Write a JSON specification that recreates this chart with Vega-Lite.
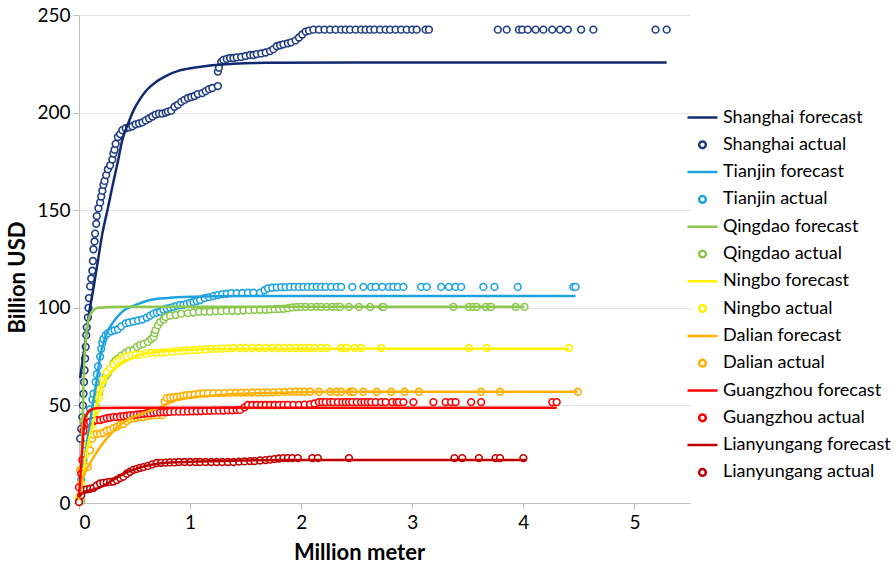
{
  "$schema": "https://vega.github.io/schema/vega-lite/v6.json",
  "width": 611,
  "height": 488,
  "autosize": {"type": "none"},
  "padding": {"left": 79, "top": 15, "right": 206, "bottom": 63},
  "background": "white",
  "config": {
    "view": {"stroke": null},
    "font": "Lato",
    "axis": {"labelFont": "Lato", "titleFont": "Lato", "labelColor": "#000000", "titleColor": "#000000"}
  },
  "datasets": {
    "forecast": [
      {"s":"Shanghai  forecast","x":0.01,"y":64},{"s":"Shanghai  forecast","x":0.05,"y":80},{"s":"Shanghai  forecast","x":0.09,"y":97},{"s":"Shanghai  forecast","x":0.13,"y":110},{"s":"Shanghai  forecast","x":0.17,"y":124},{"s":"Shanghai  forecast","x":0.21,"y":138},{"s":"Shanghai  forecast","x":0.26,"y":151},{"s":"Shanghai  forecast","x":0.30,"y":162},{"s":"Shanghai  forecast","x":0.35,"y":175},{"s":"Shanghai  forecast","x":0.39,"y":186},{"s":"Shanghai  forecast","x":0.44,"y":194},{"s":"Shanghai  forecast","x":0.49,"y":201},{"s":"Shanghai  forecast","x":0.55,"y":207},{"s":"Shanghai  forecast","x":0.61,"y":211.6},{"s":"Shanghai  forecast","x":0.70,"y":216},{"s":"Shanghai  forecast","x":0.79,"y":219},{"s":"Shanghai  forecast","x":0.90,"y":221.5},{"s":"Shanghai  forecast","x":1.03,"y":223},{"s":"Shanghai  forecast","x":1.2,"y":224.3},{"s":"Shanghai  forecast","x":1.39,"y":225},{"s":"Shanghai  forecast","x":1.7,"y":225.5},{"s":"Shanghai  forecast","x":2.5,"y":225.7},{"s":"Shanghai  forecast","x":5.29,"y":225.7},
      {"s":"Tianjin forecast","x":0.03,"y":18},{"s":"Tianjin forecast","x":0.05,"y":22},{"s":"Tianjin forecast","x":0.08,"y":34},{"s":"Tianjin forecast","x":0.12,"y":49},{"s":"Tianjin forecast","x":0.16,"y":63},{"s":"Tianjin forecast","x":0.19,"y":75},{"s":"Tianjin forecast","x":0.22,"y":82},{"s":"Tianjin forecast","x":0.25,"y":87},{"s":"Tianjin forecast","x":0.30,"y":92},{"s":"Tianjin forecast","x":0.34,"y":95},{"s":"Tianjin forecast","x":0.40,"y":98.5},{"s":"Tianjin forecast","x":0.49,"y":101},{"s":"Tianjin forecast","x":0.64,"y":104},{"s":"Tianjin forecast","x":0.80,"y":105},{"s":"Tianjin forecast","x":0.94,"y":105.5},{"s":"Tianjin forecast","x":1.5,"y":106},{"s":"Tianjin forecast","x":4.47,"y":106},
      {"s":"Qingdao forecast","x":0.02,"y":20},{"s":"Qingdao forecast","x":0.03,"y":35},{"s":"Qingdao forecast","x":0.04,"y":60},{"s":"Qingdao forecast","x":0.05,"y":75},{"s":"Qingdao forecast","x":0.07,"y":89},{"s":"Qingdao forecast","x":0.09,"y":95},{"s":"Qingdao forecast","x":0.12,"y":98},{"s":"Qingdao forecast","x":0.17,"y":100},{"s":"Qingdao forecast","x":0.4,"y":100.5},{"s":"Qingdao forecast","x":4.01,"y":100.5},
      {"s":"Ningbo  forecast","x":0.0,"y":3},{"s":"Ningbo  forecast","x":0.03,"y":12},{"s":"Ningbo  forecast","x":0.07,"y":27},{"s":"Ningbo  forecast","x":0.10,"y":35},{"s":"Ningbo  forecast","x":0.13,"y":42},{"s":"Ningbo  forecast","x":0.16,"y":50},{"s":"Ningbo  forecast","x":0.19,"y":58},{"s":"Ningbo  forecast","x":0.23,"y":63},{"s":"Ningbo  forecast","x":0.28,"y":66.5},{"s":"Ningbo  forecast","x":0.34,"y":69.5},{"s":"Ningbo  forecast","x":0.40,"y":72},{"s":"Ningbo  forecast","x":0.47,"y":74},{"s":"Ningbo  forecast","x":0.55,"y":76},{"s":"Ningbo  forecast","x":0.65,"y":77},{"s":"Ningbo  forecast","x":0.79,"y":77.8},{"s":"Ningbo  forecast","x":1.0,"y":78.5},{"s":"Ningbo  forecast","x":1.5,"y":79},{"s":"Ningbo  forecast","x":4.41,"y":79},
      {"s":"Dalian forecast","x":0.0,"y":1.5},{"s":"Dalian forecast","x":0.02,"y":9},{"s":"Dalian forecast","x":0.05,"y":15},{"s":"Dalian forecast","x":0.10,"y":20.5},{"s":"Dalian forecast","x":0.15,"y":25},{"s":"Dalian forecast","x":0.19,"y":28.7},{"s":"Dalian forecast","x":0.25,"y":33},{"s":"Dalian forecast","x":0.31,"y":37},{"s":"Dalian forecast","x":0.37,"y":40},{"s":"Dalian forecast","x":0.43,"y":42.5},{"s":"Dalian forecast","x":0.50,"y":44.3},{"s":"Dalian forecast","x":0.58,"y":46},{"s":"Dalian forecast","x":0.65,"y":47.5},{"s":"Dalian forecast","x":0.73,"y":49},{"s":"Dalian forecast","x":0.80,"y":51},{"s":"Dalian forecast","x":0.88,"y":52.8},{"s":"Dalian forecast","x":1.0,"y":54},{"s":"Dalian forecast","x":1.2,"y":55},{"s":"Dalian forecast","x":1.4,"y":55.8},{"s":"Dalian forecast","x":1.8,"y":56.5},{"s":"Dalian forecast","x":2.2,"y":57},{"s":"Dalian forecast","x":4.49,"y":57},
      {"s":"Guangzhou forecast","x":0.0,"y":3},{"s":"Guangzhou forecast","x":0.02,"y":20},{"s":"Guangzhou forecast","x":0.04,"y":36},{"s":"Guangzhou forecast","x":0.05,"y":42.5},{"s":"Guangzhou forecast","x":0.07,"y":45.5},{"s":"Guangzhou forecast","x":0.10,"y":47.6},{"s":"Guangzhou forecast","x":0.15,"y":48.5},{"s":"Guangzhou forecast","x":0.19,"y":48.7},{"s":"Guangzhou forecast","x":0.5,"y":48.8},{"s":"Guangzhou forecast","x":4.30,"y":48.8},
      {"s":"Lianyungang forecast","x":0.0,"y":3},{"s":"Lianyungang forecast","x":0.04,"y":5.5},{"s":"Lianyungang forecast","x":0.10,"y":6.5},{"s":"Lianyungang forecast","x":0.19,"y":8},{"s":"Lianyungang forecast","x":0.27,"y":10.5},{"s":"Lianyungang forecast","x":0.34,"y":13},{"s":"Lianyungang forecast","x":0.42,"y":15.5},{"s":"Lianyungang forecast","x":0.49,"y":17},{"s":"Lianyungang forecast","x":0.57,"y":18.5},{"s":"Lianyungang forecast","x":0.64,"y":19.5},{"s":"Lianyungang forecast","x":0.72,"y":20.2},{"s":"Lianyungang forecast","x":0.79,"y":20.6},{"s":"Lianyungang forecast","x":0.9,"y":20.9},{"s":"Lianyungang forecast","x":1.09,"y":21.3},{"s":"Lianyungang forecast","x":1.4,"y":21.7},{"s":"Lianyungang forecast","x":1.8,"y":22},{"s":"Lianyungang forecast","x":4.03,"y":22}
    ],
    "actual": [
      {"s":"Shanghai  actual","x":0.01,"y":33},{"s":"Shanghai  actual","x":0.02,"y":38},{"s":"Shanghai  actual","x":0.03,"y":44},{"s":"Shanghai  actual","x":0.035,"y":50},{"s":"Shanghai  actual","x":0.04,"y":56},{"s":"Shanghai  actual","x":0.045,"y":62},{"s":"Shanghai  actual","x":0.05,"y":68},{"s":"Shanghai  actual","x":0.055,"y":74},{"s":"Shanghai  actual","x":0.06,"y":80},{"s":"Shanghai  actual","x":0.065,"y":86},{"s":"Shanghai  actual","x":0.07,"y":90},{"s":"Shanghai  actual","x":0.08,"y":95},{"s":"Shanghai  actual","x":0.085,"y":100},{"s":"Shanghai  actual","x":0.09,"y":105},{"s":"Shanghai  actual","x":0.10,"y":111},{"s":"Shanghai  actual","x":0.11,"y":115},{"s":"Shanghai  actual","x":0.12,"y":119},{"s":"Shanghai  actual","x":0.125,"y":124},{"s":"Shanghai  actual","x":0.13,"y":130},{"s":"Shanghai  actual","x":0.14,"y":134},{"s":"Shanghai  actual","x":0.145,"y":138},{"s":"Shanghai  actual","x":0.155,"y":143},{"s":"Shanghai  actual","x":0.16,"y":147},{"s":"Shanghai  actual","x":0.175,"y":151},{"s":"Shanghai  actual","x":0.19,"y":154},{"s":"Shanghai  actual","x":0.20,"y":157},{"s":"Shanghai  actual","x":0.21,"y":160},{"s":"Shanghai  actual","x":0.22,"y":163},{"s":"Shanghai  actual","x":0.23,"y":165},{"s":"Shanghai  actual","x":0.245,"y":168},{"s":"Shanghai  actual","x":0.26,"y":171},{"s":"Shanghai  actual","x":0.28,"y":173},{"s":"Shanghai  actual","x":0.30,"y":176},{"s":"Shanghai  actual","x":0.31,"y":179},{"s":"Shanghai  actual","x":0.32,"y":181},{"s":"Shanghai  actual","x":0.33,"y":184},{"s":"Shanghai  actual","x":0.35,"y":187.5},{"s":"Shanghai  actual","x":0.37,"y":189},{"s":"Shanghai  actual","x":0.39,"y":191},{"s":"Shanghai  actual","x":0.42,"y":192},{"s":"Shanghai  actual","x":0.45,"y":192.5},{"s":"Shanghai  actual","x":0.48,"y":193},{"s":"Shanghai  actual","x":0.51,"y":194},{"s":"Shanghai  actual","x":0.54,"y":194.5},{"s":"Shanghai  actual","x":0.57,"y":195},{"s":"Shanghai  actual","x":0.60,"y":196},{"s":"Shanghai  actual","x":0.63,"y":197},{"s":"Shanghai  actual","x":0.66,"y":198},{"s":"Shanghai  actual","x":0.69,"y":199},{"s":"Shanghai  actual","x":0.72,"y":199.5},{"s":"Shanghai  actual","x":0.75,"y":199.5},{"s":"Shanghai  actual","x":0.78,"y":200},{"s":"Shanghai  actual","x":0.80,"y":200.5},{"s":"Shanghai  actual","x":0.83,"y":201},{"s":"Shanghai  actual","x":0.86,"y":203},{"s":"Shanghai  actual","x":0.89,"y":204},{"s":"Shanghai  actual","x":0.92,"y":205.5},{"s":"Shanghai  actual","x":0.95,"y":206.5},{"s":"Shanghai  actual","x":0.98,"y":207.5},{"s":"Shanghai  actual","x":1.01,"y":208},{"s":"Shanghai  actual","x":1.04,"y":208.5},{"s":"Shanghai  actual","x":1.07,"y":209.5},{"s":"Shanghai  actual","x":1.11,"y":210},{"s":"Shanghai  actual","x":1.14,"y":211},{"s":"Shanghai  actual","x":1.17,"y":212},{"s":"Shanghai  actual","x":1.20,"y":212.6},{"s":"Shanghai  actual","x":1.25,"y":213.6},
      {"s":"Shanghai  actual","x":1.25,"y":221},{"s":"Shanghai  actual","x":1.26,"y":223},{"s":"Shanghai  actual","x":1.28,"y":226},{"s":"Shanghai  actual","x":1.30,"y":227},{"s":"Shanghai  actual","x":1.33,"y":227.5},{"s":"Shanghai  actual","x":1.36,"y":228},{"s":"Shanghai  actual","x":1.39,"y":228},{"s":"Shanghai  actual","x":1.42,"y":228.3},{"s":"Shanghai  actual","x":1.46,"y":228.5},{"s":"Shanghai  actual","x":1.50,"y":229},{"s":"Shanghai  actual","x":1.54,"y":229.5},{"s":"Shanghai  actual","x":1.57,"y":229.5},{"s":"Shanghai  actual","x":1.60,"y":230},{"s":"Shanghai  actual","x":1.64,"y":230.3},{"s":"Shanghai  actual","x":1.68,"y":230.8},{"s":"Shanghai  actual","x":1.72,"y":231.5},{"s":"Shanghai  actual","x":1.75,"y":232.5},{"s":"Shanghai  actual","x":1.78,"y":234},{"s":"Shanghai  actual","x":1.81,"y":234.5},{"s":"Shanghai  actual","x":1.84,"y":235},{"s":"Shanghai  actual","x":1.88,"y":235.5},{"s":"Shanghai  actual","x":1.91,"y":236},{"s":"Shanghai  actual","x":1.95,"y":237},{"s":"Shanghai  actual","x":1.98,"y":238.5},{"s":"Shanghai  actual","x":2.01,"y":240},{"s":"Shanghai  actual","x":2.04,"y":241.5},{"s":"Shanghai  actual","x":2.07,"y":242},{"s":"Shanghai  actual","x":2.11,"y":242.5},{"s":"Shanghai  actual","x":2.16,"y":242.5},{"s":"Shanghai  actual","x":2.21,"y":242.5},{"s":"Shanghai  actual","x":2.26,"y":242.5},{"s":"Shanghai  actual","x":2.31,"y":242.5},{"s":"Shanghai  actual","x":2.36,"y":242.5},{"s":"Shanghai  actual","x":2.40,"y":242.5},{"s":"Shanghai  actual","x":2.44,"y":242.5},{"s":"Shanghai  actual","x":2.49,"y":242.5},{"s":"Shanghai  actual","x":2.54,"y":242.5},{"s":"Shanghai  actual","x":2.58,"y":242.5},{"s":"Shanghai  actual","x":2.62,"y":242.5},{"s":"Shanghai  actual","x":2.66,"y":242.5},{"s":"Shanghai  actual","x":2.71,"y":242.5},{"s":"Shanghai  actual","x":2.76,"y":242.5},{"s":"Shanghai  actual","x":2.80,"y":242.5},{"s":"Shanghai  actual","x":2.85,"y":242.5},{"s":"Shanghai  actual","x":2.90,"y":242.5},{"s":"Shanghai  actual","x":2.95,"y":242.5},{"s":"Shanghai  actual","x":3.00,"y":242.5},{"s":"Shanghai  actual","x":3.04,"y":242.5},{"s":"Shanghai  actual","x":3.12,"y":242.5},{"s":"Shanghai  actual","x":3.15,"y":242.5},{"s":"Shanghai  actual","x":3.77,"y":242.5},{"s":"Shanghai  actual","x":3.85,"y":242.5},{"s":"Shanghai  actual","x":3.96,"y":242.5},{"s":"Shanghai  actual","x":3.99,"y":242.5},{"s":"Shanghai  actual","x":4.04,"y":242.5},{"s":"Shanghai  actual","x":4.11,"y":242.5},{"s":"Shanghai  actual","x":4.18,"y":242.5},{"s":"Shanghai  actual","x":4.26,"y":242.5},{"s":"Shanghai  actual","x":4.33,"y":242.5},{"s":"Shanghai  actual","x":4.40,"y":242.5},{"s":"Shanghai  actual","x":4.52,"y":242.5},{"s":"Shanghai  actual","x":4.63,"y":242.5},{"s":"Shanghai  actual","x":5.19,"y":242.5},{"s":"Shanghai  actual","x":5.29,"y":242.5},
      {"s":"Tianjin actual","x":0.0,"y":3},{"s":"Tianjin actual","x":0.02,"y":12},{"s":"Tianjin actual","x":0.04,"y":22},{"s":"Tianjin actual","x":0.05,"y":30},{"s":"Tianjin actual","x":0.07,"y":37},{"s":"Tianjin actual","x":0.08,"y":42},{"s":"Tianjin actual","x":0.10,"y":48},{"s":"Tianjin actual","x":0.12,"y":53},{"s":"Tianjin actual","x":0.13,"y":56},{"s":"Tianjin actual","x":0.15,"y":62},{"s":"Tianjin actual","x":0.16,"y":66},{"s":"Tianjin actual","x":0.17,"y":70},{"s":"Tianjin actual","x":0.19,"y":75},{"s":"Tianjin actual","x":0.20,"y":79},{"s":"Tianjin actual","x":0.21,"y":82},{"s":"Tianjin actual","x":0.22,"y":84},{"s":"Tianjin actual","x":0.24,"y":86},{"s":"Tianjin actual","x":0.26,"y":87},{"s":"Tianjin actual","x":0.29,"y":88},{"s":"Tianjin actual","x":0.32,"y":88.5},{"s":"Tianjin actual","x":0.35,"y":89},{"s":"Tianjin actual","x":0.38,"y":90.5},{"s":"Tianjin actual","x":0.42,"y":92},{"s":"Tianjin actual","x":0.45,"y":92.5},{"s":"Tianjin actual","x":0.49,"y":93},{"s":"Tianjin actual","x":0.53,"y":93.5},{"s":"Tianjin actual","x":0.57,"y":94},{"s":"Tianjin actual","x":0.61,"y":95},{"s":"Tianjin actual","x":0.64,"y":96},{"s":"Tianjin actual","x":0.67,"y":97},{"s":"Tianjin actual","x":0.70,"y":97.5},{"s":"Tianjin actual","x":0.73,"y":98},{"s":"Tianjin actual","x":0.76,"y":99},{"s":"Tianjin actual","x":0.79,"y":99.5},{"s":"Tianjin actual","x":0.82,"y":100},{"s":"Tianjin actual","x":0.85,"y":100.5},{"s":"Tianjin actual","x":0.88,"y":101},{"s":"Tianjin actual","x":0.91,"y":101.5},{"s":"Tianjin actual","x":0.94,"y":101.5},{"s":"Tianjin actual","x":0.97,"y":102},{"s":"Tianjin actual","x":1.00,"y":102.5},{"s":"Tianjin actual","x":1.03,"y":103},{"s":"Tianjin actual","x":1.06,"y":103.5},{"s":"Tianjin actual","x":1.09,"y":104},{"s":"Tianjin actual","x":1.13,"y":105},{"s":"Tianjin actual","x":1.17,"y":105.5},{"s":"Tianjin actual","x":1.21,"y":106},{"s":"Tianjin actual","x":1.25,"y":106.5},{"s":"Tianjin actual","x":1.29,"y":107},{"s":"Tianjin actual","x":1.33,"y":107.2},{"s":"Tianjin actual","x":1.37,"y":107.5},{"s":"Tianjin actual","x":1.42,"y":107.5},{"s":"Tianjin actual","x":1.47,"y":107.6},{"s":"Tianjin actual","x":1.52,"y":107.7},{"s":"Tianjin actual","x":1.57,"y":107.7},{"s":"Tianjin actual","x":1.63,"y":107.8},{"s":"Tianjin actual","x":1.67,"y":109},{"s":"Tianjin actual","x":1.70,"y":110},{"s":"Tianjin actual","x":1.74,"y":110.3},{"s":"Tianjin actual","x":1.78,"y":110.5},{"s":"Tianjin actual","x":1.82,"y":110.6},{"s":"Tianjin actual","x":1.86,"y":110.6},{"s":"Tianjin actual","x":1.90,"y":110.7},{"s":"Tianjin actual","x":1.94,"y":110.7},{"s":"Tianjin actual","x":1.98,"y":110.7},{"s":"Tianjin actual","x":2.02,"y":110.7},{"s":"Tianjin actual","x":2.06,"y":110.7},{"s":"Tianjin actual","x":2.10,"y":110.7},{"s":"Tianjin actual","x":2.14,"y":110.7},{"s":"Tianjin actual","x":2.18,"y":110.7},{"s":"Tianjin actual","x":2.22,"y":110.7},{"s":"Tianjin actual","x":2.27,"y":110.7},{"s":"Tianjin actual","x":2.32,"y":110.7},{"s":"Tianjin actual","x":2.36,"y":110.7},{"s":"Tianjin actual","x":2.46,"y":110.7},{"s":"Tianjin actual","x":2.56,"y":110.7},{"s":"Tianjin actual","x":2.63,"y":110.7},{"s":"Tianjin actual","x":2.67,"y":110.7},{"s":"Tianjin actual","x":2.73,"y":110.7},{"s":"Tianjin actual","x":2.79,"y":110.7},{"s":"Tianjin actual","x":2.83,"y":110.7},{"s":"Tianjin actual","x":2.87,"y":110.7},{"s":"Tianjin actual","x":2.92,"y":110.7},{"s":"Tianjin actual","x":3.08,"y":110.7},{"s":"Tianjin actual","x":3.13,"y":110.7},{"s":"Tianjin actual","x":3.26,"y":110.7},{"s":"Tianjin actual","x":3.33,"y":110.7},{"s":"Tianjin actual","x":3.39,"y":110.7},{"s":"Tianjin actual","x":3.44,"y":110.7},{"s":"Tianjin actual","x":3.64,"y":110.7},{"s":"Tianjin actual","x":3.74,"y":110.7},{"s":"Tianjin actual","x":3.95,"y":110.7},{"s":"Tianjin actual","x":4.45,"y":110.7},{"s":"Tianjin actual","x":4.47,"y":110.7},
      {"s":"Qingdao actual","x":0.02,"y":1},{"s":"Qingdao actual","x":0.04,"y":42},{"s":"Qingdao actual","x":0.06,"y":43},{"s":"Qingdao actual","x":0.08,"y":44},{"s":"Qingdao actual","x":0.10,"y":45},{"s":"Qingdao actual","x":0.13,"y":46},{"s":"Qingdao actual","x":0.15,"y":50},{"s":"Qingdao actual","x":0.16,"y":54},{"s":"Qingdao actual","x":0.18,"y":56},{"s":"Qingdao actual","x":0.19,"y":58},{"s":"Qingdao actual","x":0.21,"y":61},{"s":"Qingdao actual","x":0.22,"y":63},{"s":"Qingdao actual","x":0.24,"y":65},{"s":"Qingdao actual","x":0.26,"y":66.5},{"s":"Qingdao actual","x":0.28,"y":68.5},{"s":"Qingdao actual","x":0.31,"y":71.7},{"s":"Qingdao actual","x":0.33,"y":73},{"s":"Qingdao actual","x":0.35,"y":74},{"s":"Qingdao actual","x":0.38,"y":75.5},{"s":"Qingdao actual","x":0.42,"y":77},{"s":"Qingdao actual","x":0.45,"y":78},{"s":"Qingdao actual","x":0.49,"y":78.4},{"s":"Qingdao actual","x":0.52,"y":80},{"s":"Qingdao actual","x":0.55,"y":81},{"s":"Qingdao actual","x":0.58,"y":81.5},{"s":"Qingdao actual","x":0.62,"y":82.5},{"s":"Qingdao actual","x":0.65,"y":84},{"s":"Qingdao actual","x":0.67,"y":85},{"s":"Qingdao actual","x":0.68,"y":87},{"s":"Qingdao actual","x":0.69,"y":88.6},{"s":"Qingdao actual","x":0.71,"y":91},{"s":"Qingdao actual","x":0.73,"y":92.7},{"s":"Qingdao actual","x":0.76,"y":94},{"s":"Qingdao actual","x":0.78,"y":95.3},{"s":"Qingdao actual","x":0.82,"y":96},{"s":"Qingdao actual","x":0.87,"y":96.3},{"s":"Qingdao actual","x":0.92,"y":97},{"s":"Qingdao actual","x":0.98,"y":97.3},{"s":"Qingdao actual","x":1.03,"y":97.6},{"s":"Qingdao actual","x":1.08,"y":98},{"s":"Qingdao actual","x":1.13,"y":98},{"s":"Qingdao actual","x":1.18,"y":98},{"s":"Qingdao actual","x":1.23,"y":98.2},{"s":"Qingdao actual","x":1.28,"y":98.3},{"s":"Qingdao actual","x":1.33,"y":98.4},{"s":"Qingdao actual","x":1.38,"y":98.5},{"s":"Qingdao actual","x":1.43,"y":98.5},{"s":"Qingdao actual","x":1.48,"y":98.6},{"s":"Qingdao actual","x":1.53,"y":98.8},{"s":"Qingdao actual","x":1.58,"y":98.9},{"s":"Qingdao actual","x":1.63,"y":99},{"s":"Qingdao actual","x":1.68,"y":99},{"s":"Qingdao actual","x":1.72,"y":99.2},{"s":"Qingdao actual","x":1.76,"y":99.3},{"s":"Qingdao actual","x":1.80,"y":99.4},{"s":"Qingdao actual","x":1.84,"y":99.5},{"s":"Qingdao actual","x":1.88,"y":99.8},{"s":"Qingdao actual","x":1.92,"y":100.2},{"s":"Qingdao actual","x":1.96,"y":100.4},{"s":"Qingdao actual","x":2.00,"y":100.5},{"s":"Qingdao actual","x":2.04,"y":100.5},{"s":"Qingdao actual","x":2.09,"y":100.5},{"s":"Qingdao actual","x":2.14,"y":100.5},{"s":"Qingdao actual","x":2.18,"y":100.5},{"s":"Qingdao actual","x":2.23,"y":100.5},{"s":"Qingdao actual","x":2.28,"y":100.5},{"s":"Qingdao actual","x":2.32,"y":100.5},{"s":"Qingdao actual","x":2.35,"y":100.5},{"s":"Qingdao actual","x":2.43,"y":100.5},{"s":"Qingdao actual","x":2.52,"y":100.5},{"s":"Qingdao actual","x":2.62,"y":100.5},{"s":"Qingdao actual","x":2.73,"y":100.5},{"s":"Qingdao actual","x":2.74,"y":100.5},{"s":"Qingdao actual","x":3.37,"y":100.5},{"s":"Qingdao actual","x":3.51,"y":100.5},{"s":"Qingdao actual","x":3.55,"y":100.5},{"s":"Qingdao actual","x":3.58,"y":100.5},{"s":"Qingdao actual","x":3.66,"y":100.5},{"s":"Qingdao actual","x":3.70,"y":100.5},{"s":"Qingdao actual","x":3.71,"y":100.5},{"s":"Qingdao actual","x":3.93,"y":100.5},{"s":"Qingdao actual","x":4.01,"y":100.5},
      {"s":"Ningbo actual","x":0.0,"y":3},{"s":"Ningbo actual","x":0.02,"y":10},{"s":"Ningbo actual","x":0.04,"y":18},{"s":"Ningbo actual","x":0.06,"y":25},{"s":"Ningbo actual","x":0.08,"y":30},{"s":"Ningbo actual","x":0.10,"y":34},{"s":"Ningbo actual","x":0.12,"y":40},{"s":"Ningbo actual","x":0.14,"y":44},{"s":"Ningbo actual","x":0.16,"y":48},{"s":"Ningbo actual","x":0.18,"y":54},{"s":"Ningbo actual","x":0.19,"y":58},{"s":"Ningbo actual","x":0.22,"y":63},{"s":"Ningbo actual","x":0.25,"y":67},{"s":"Ningbo actual","x":0.28,"y":69},{"s":"Ningbo actual","x":0.31,"y":71},{"s":"Ningbo actual","x":0.34,"y":72.5},{"s":"Ningbo actual","x":0.37,"y":73.5},{"s":"Ningbo actual","x":0.40,"y":74.5},{"s":"Ningbo actual","x":0.43,"y":75},{"s":"Ningbo actual","x":0.47,"y":75.5},{"s":"Ningbo actual","x":0.51,"y":76},{"s":"Ningbo actual","x":0.55,"y":76},{"s":"Ningbo actual","x":0.60,"y":76.5},{"s":"Ningbo actual","x":0.65,"y":77},{"s":"Ningbo actual","x":0.70,"y":77},{"s":"Ningbo actual","x":0.75,"y":77},{"s":"Ningbo actual","x":0.79,"y":77.3},{"s":"Ningbo actual","x":0.84,"y":77.5},{"s":"Ningbo actual","x":0.89,"y":77.8},{"s":"Ningbo actual","x":0.94,"y":78},{"s":"Ningbo actual","x":0.99,"y":78.2},{"s":"Ningbo actual","x":1.04,"y":78.4},{"s":"Ningbo actual","x":1.09,"y":78.5},{"s":"Ningbo actual","x":1.14,"y":78.7},{"s":"Ningbo actual","x":1.19,"y":78.9},{"s":"Ningbo actual","x":1.24,"y":79},{"s":"Ningbo actual","x":1.29,"y":79.1},{"s":"Ningbo actual","x":1.34,"y":79.2},{"s":"Ningbo actual","x":1.39,"y":79.4},{"s":"Ningbo actual","x":1.45,"y":79.4},{"s":"Ningbo actual","x":1.50,"y":79.4},{"s":"Ningbo actual","x":1.56,"y":79.4},{"s":"Ningbo actual","x":1.62,"y":79.4},{"s":"Ningbo actual","x":1.68,"y":79.4},{"s":"Ningbo actual","x":1.74,"y":79.4},{"s":"Ningbo actual","x":1.80,"y":79.4},{"s":"Ningbo actual","x":1.85,"y":79.4},{"s":"Ningbo actual","x":1.90,"y":79.4},{"s":"Ningbo actual","x":1.95,"y":79.4},{"s":"Ningbo actual","x":2.00,"y":79.4},{"s":"Ningbo actual","x":2.04,"y":79.4},{"s":"Ningbo actual","x":2.08,"y":79.4},{"s":"Ningbo actual","x":2.12,"y":79.4},{"s":"Ningbo actual","x":2.18,"y":79.4},{"s":"Ningbo actual","x":2.23,"y":79.4},{"s":"Ningbo actual","x":2.36,"y":79.4},{"s":"Ningbo actual","x":2.40,"y":79.4},{"s":"Ningbo actual","x":2.41,"y":79.4},{"s":"Ningbo actual","x":2.48,"y":79.4},{"s":"Ningbo actual","x":2.54,"y":79.4},{"s":"Ningbo actual","x":2.72,"y":79.4},{"s":"Ningbo actual","x":3.51,"y":79.4},{"s":"Ningbo actual","x":3.67,"y":79.4},{"s":"Ningbo actual","x":4.41,"y":79.4},
      {"s":"Dalian actual","x":0.0,"y":1.5},{"s":"Dalian actual","x":0.01,"y":17},{"s":"Dalian actual","x":0.03,"y":17.5},{"s":"Dalian actual","x":0.05,"y":18},{"s":"Dalian actual","x":0.08,"y":18.5},{"s":"Dalian actual","x":0.10,"y":27},{"s":"Dalian actual","x":0.12,"y":33},{"s":"Dalian actual","x":0.13,"y":35},{"s":"Dalian actual","x":0.16,"y":35.5},{"s":"Dalian actual","x":0.19,"y":35.5},{"s":"Dalian actual","x":0.22,"y":36},{"s":"Dalian actual","x":0.25,"y":37},{"s":"Dalian actual","x":0.28,"y":37.5},{"s":"Dalian actual","x":0.31,"y":38.4},{"s":"Dalian actual","x":0.34,"y":39},{"s":"Dalian actual","x":0.37,"y":40},{"s":"Dalian actual","x":0.40,"y":40.5},{"s":"Dalian actual","x":0.43,"y":42},{"s":"Dalian actual","x":0.46,"y":43},{"s":"Dalian actual","x":0.49,"y":43.5},{"s":"Dalian actual","x":0.52,"y":43.8},{"s":"Dalian actual","x":0.55,"y":44},{"s":"Dalian actual","x":0.58,"y":44},{"s":"Dalian actual","x":0.61,"y":44.5},{"s":"Dalian actual","x":0.64,"y":44.8},{"s":"Dalian actual","x":0.67,"y":45},{"s":"Dalian actual","x":0.71,"y":45},{"s":"Dalian actual","x":0.75,"y":45},{"s":"Dalian actual","x":0.77,"y":52},{"s":"Dalian actual","x":0.79,"y":53.8},{"s":"Dalian actual","x":0.82,"y":54},{"s":"Dalian actual","x":0.85,"y":54.2},{"s":"Dalian actual","x":0.88,"y":54.3},{"s":"Dalian actual","x":0.91,"y":54.5},{"s":"Dalian actual","x":0.94,"y":55},{"s":"Dalian actual","x":0.97,"y":55.3},{"s":"Dalian actual","x":1.00,"y":55.3},{"s":"Dalian actual","x":1.04,"y":55.6},{"s":"Dalian actual","x":1.08,"y":56},{"s":"Dalian actual","x":1.12,"y":56.1},{"s":"Dalian actual","x":1.16,"y":56.2},{"s":"Dalian actual","x":1.21,"y":56.3},{"s":"Dalian actual","x":1.26,"y":56.3},{"s":"Dalian actual","x":1.31,"y":56.3},{"s":"Dalian actual","x":1.36,"y":56.4},{"s":"Dalian actual","x":1.41,"y":56.5},{"s":"Dalian actual","x":1.46,"y":56.5},{"s":"Dalian actual","x":1.51,"y":56.5},{"s":"Dalian actual","x":1.56,"y":56.6},{"s":"Dalian actual","x":1.61,"y":56.6},{"s":"Dalian actual","x":1.66,"y":56.6},{"s":"Dalian actual","x":1.70,"y":56.6},{"s":"Dalian actual","x":1.75,"y":56.7},{"s":"Dalian actual","x":1.80,"y":56.8},{"s":"Dalian actual","x":1.85,"y":56.9},{"s":"Dalian actual","x":1.90,"y":57},{"s":"Dalian actual","x":1.95,"y":57},{"s":"Dalian actual","x":1.99,"y":57},{"s":"Dalian actual","x":2.03,"y":57},{"s":"Dalian actual","x":2.08,"y":57},{"s":"Dalian actual","x":2.16,"y":57},{"s":"Dalian actual","x":2.26,"y":57},{"s":"Dalian actual","x":2.32,"y":57},{"s":"Dalian actual","x":2.36,"y":57},{"s":"Dalian actual","x":2.44,"y":57},{"s":"Dalian actual","x":2.46,"y":57},{"s":"Dalian actual","x":2.47,"y":57},{"s":"Dalian actual","x":2.56,"y":57},{"s":"Dalian actual","x":2.68,"y":57},{"s":"Dalian actual","x":2.81,"y":57},{"s":"Dalian actual","x":2.93,"y":57},{"s":"Dalian actual","x":3.06,"y":57},{"s":"Dalian actual","x":3.62,"y":57},{"s":"Dalian actual","x":3.79,"y":57},{"s":"Dalian actual","x":4.49,"y":57},
      {"s":"Guangzhou actual","x":0.0,"y":8},{"s":"Guangzhou actual","x":0.02,"y":15},{"s":"Guangzhou actual","x":0.03,"y":22},{"s":"Guangzhou actual","x":0.04,"y":37},{"s":"Guangzhou actual","x":0.05,"y":40},{"s":"Guangzhou actual","x":0.06,"y":41},{"s":"Guangzhou actual","x":0.08,"y":41},{"s":"Guangzhou actual","x":0.10,"y":41.5},{"s":"Guangzhou actual","x":0.13,"y":42},{"s":"Guangzhou actual","x":0.16,"y":42.5},{"s":"Guangzhou actual","x":0.19,"y":42.5},{"s":"Guangzhou actual","x":0.22,"y":43},{"s":"Guangzhou actual","x":0.25,"y":43.5},{"s":"Guangzhou actual","x":0.28,"y":43.7},{"s":"Guangzhou actual","x":0.31,"y":44},{"s":"Guangzhou actual","x":0.34,"y":44},{"s":"Guangzhou actual","x":0.37,"y":44.3},{"s":"Guangzhou actual","x":0.40,"y":44.5},{"s":"Guangzhou actual","x":0.43,"y":44.7},{"s":"Guangzhou actual","x":0.46,"y":45},{"s":"Guangzhou actual","x":0.49,"y":45},{"s":"Guangzhou actual","x":0.52,"y":45.3},{"s":"Guangzhou actual","x":0.55,"y":45.5},{"s":"Guangzhou actual","x":0.58,"y":45.7},{"s":"Guangzhou actual","x":0.61,"y":46},{"s":"Guangzhou actual","x":0.64,"y":46},{"s":"Guangzhou actual","x":0.67,"y":46.2},{"s":"Guangzhou actual","x":0.70,"y":46.4},{"s":"Guangzhou actual","x":0.73,"y":46.5},{"s":"Guangzhou actual","x":0.76,"y":46.6},{"s":"Guangzhou actual","x":0.79,"y":46.6},{"s":"Guangzhou actual","x":0.82,"y":46.7},{"s":"Guangzhou actual","x":0.86,"y":46.8},{"s":"Guangzhou actual","x":0.90,"y":46.8},{"s":"Guangzhou actual","x":0.94,"y":46.8},{"s":"Guangzhou actual","x":0.98,"y":46.9},{"s":"Guangzhou actual","x":1.02,"y":47},{"s":"Guangzhou actual","x":1.06,"y":47},{"s":"Guangzhou actual","x":1.10,"y":47.1},{"s":"Guangzhou actual","x":1.14,"y":47.2},{"s":"Guangzhou actual","x":1.18,"y":47.2},{"s":"Guangzhou actual","x":1.22,"y":47.3},{"s":"Guangzhou actual","x":1.26,"y":47.3},{"s":"Guangzhou actual","x":1.30,"y":47.4},{"s":"Guangzhou actual","x":1.34,"y":47.5},{"s":"Guangzhou actual","x":1.38,"y":47.5},{"s":"Guangzhou actual","x":1.42,"y":47.6},{"s":"Guangzhou actual","x":1.45,"y":47.7},{"s":"Guangzhou actual","x":1.49,"y":49},{"s":"Guangzhou actual","x":1.52,"y":50.2},{"s":"Guangzhou actual","x":1.56,"y":50.2},{"s":"Guangzhou actual","x":1.60,"y":50.2},{"s":"Guangzhou actual","x":1.64,"y":50.2},{"s":"Guangzhou actual","x":1.68,"y":50.2},{"s":"Guangzhou actual","x":1.72,"y":50.2},{"s":"Guangzhou actual","x":1.76,"y":50.2},{"s":"Guangzhou actual","x":1.80,"y":50.2},{"s":"Guangzhou actual","x":1.84,"y":50.3},{"s":"Guangzhou actual","x":1.88,"y":50.3},{"s":"Guangzhou actual","x":1.93,"y":50.3},{"s":"Guangzhou actual","x":1.98,"y":50.3},{"s":"Guangzhou actual","x":2.03,"y":50.4},{"s":"Guangzhou actual","x":2.08,"y":50.5},{"s":"Guangzhou actual","x":2.12,"y":51},{"s":"Guangzhou actual","x":2.16,"y":51.7},{"s":"Guangzhou actual","x":2.19,"y":51.7},{"s":"Guangzhou actual","x":2.22,"y":51.7},{"s":"Guangzhou actual","x":2.26,"y":51.7},{"s":"Guangzhou actual","x":2.29,"y":51.7},{"s":"Guangzhou actual","x":2.33,"y":51.7},{"s":"Guangzhou actual","x":2.37,"y":51.7},{"s":"Guangzhou actual","x":2.40,"y":51.7},{"s":"Guangzhou actual","x":2.43,"y":51.7},{"s":"Guangzhou actual","x":2.46,"y":51.7},{"s":"Guangzhou actual","x":2.50,"y":51.7},{"s":"Guangzhou actual","x":2.54,"y":51.7},{"s":"Guangzhou actual","x":2.57,"y":51.7},{"s":"Guangzhou actual","x":2.60,"y":51.7},{"s":"Guangzhou actual","x":2.63,"y":51.7},{"s":"Guangzhou actual","x":2.67,"y":51.7},{"s":"Guangzhou actual","x":2.72,"y":51.7},{"s":"Guangzhou actual","x":2.76,"y":51.7},{"s":"Guangzhou actual","x":2.82,"y":51.7},{"s":"Guangzhou actual","x":2.86,"y":51.7},{"s":"Guangzhou actual","x":2.88,"y":51.7},{"s":"Guangzhou actual","x":2.92,"y":51.7},{"s":"Guangzhou actual","x":3.01,"y":51.7},{"s":"Guangzhou actual","x":3.19,"y":51.7},{"s":"Guangzhou actual","x":3.30,"y":51.7},{"s":"Guangzhou actual","x":3.35,"y":51.7},{"s":"Guangzhou actual","x":3.39,"y":51.7},{"s":"Guangzhou actual","x":3.53,"y":51.7},{"s":"Guangzhou actual","x":3.62,"y":51.7},{"s":"Guangzhou actual","x":4.26,"y":51.7},{"s":"Guangzhou actual","x":4.30,"y":51.7},
      {"s":"Lianyungang actual","x":0.0,"y":0.5},{"s":"Lianyungang actual","x":0.02,"y":4},{"s":"Lianyungang actual","x":0.04,"y":6.6},{"s":"Lianyungang actual","x":0.07,"y":7},{"s":"Lianyungang actual","x":0.10,"y":7.3},{"s":"Lianyungang actual","x":0.13,"y":7.7},{"s":"Lianyungang actual","x":0.16,"y":9},{"s":"Lianyungang actual","x":0.19,"y":10},{"s":"Lianyungang actual","x":0.22,"y":10.3},{"s":"Lianyungang actual","x":0.25,"y":10.6},{"s":"Lianyungang actual","x":0.28,"y":10.8},{"s":"Lianyungang actual","x":0.31,"y":11},{"s":"Lianyungang actual","x":0.34,"y":11.8},{"s":"Lianyungang actual","x":0.37,"y":12.8},{"s":"Lianyungang actual","x":0.40,"y":13.5},{"s":"Lianyungang actual","x":0.43,"y":15},{"s":"Lianyungang actual","x":0.46,"y":16},{"s":"Lianyungang actual","x":0.49,"y":17},{"s":"Lianyungang actual","x":0.52,"y":17.5},{"s":"Lianyungang actual","x":0.55,"y":18},{"s":"Lianyungang actual","x":0.58,"y":18.4},{"s":"Lianyungang actual","x":0.62,"y":19},{"s":"Lianyungang actual","x":0.66,"y":19.8},{"s":"Lianyungang actual","x":0.70,"y":20.5},{"s":"Lianyungang actual","x":0.74,"y":20.6},{"s":"Lianyungang actual","x":0.78,"y":20.7},{"s":"Lianyungang actual","x":0.82,"y":20.8},{"s":"Lianyungang actual","x":0.86,"y":20.8},{"s":"Lianyungang actual","x":0.90,"y":21},{"s":"Lianyungang actual","x":0.95,"y":21},{"s":"Lianyungang actual","x":1.00,"y":21},{"s":"Lianyungang actual","x":1.05,"y":21},{"s":"Lianyungang actual","x":1.09,"y":21},{"s":"Lianyungang actual","x":1.14,"y":21},{"s":"Lianyungang actual","x":1.19,"y":21},{"s":"Lianyungang actual","x":1.24,"y":21},{"s":"Lianyungang actual","x":1.29,"y":21},{"s":"Lianyungang actual","x":1.34,"y":21},{"s":"Lianyungang actual","x":1.39,"y":21},{"s":"Lianyungang actual","x":1.44,"y":21.2},{"s":"Lianyungang actual","x":1.49,"y":21.3},{"s":"Lianyungang actual","x":1.54,"y":21.5},{"s":"Lianyungang actual","x":1.58,"y":21.5},{"s":"Lianyungang actual","x":1.63,"y":21.8},{"s":"Lianyungang actual","x":1.68,"y":22},{"s":"Lianyungang actual","x":1.72,"y":22.2},{"s":"Lianyungang actual","x":1.76,"y":22.5},{"s":"Lianyungang actual","x":1.80,"y":22.8},{"s":"Lianyungang actual","x":1.84,"y":23},{"s":"Lianyungang actual","x":1.88,"y":23},{"s":"Lianyungang actual","x":1.92,"y":23},{"s":"Lianyungang actual","x":1.97,"y":23},{"s":"Lianyungang actual","x":2.10,"y":23},{"s":"Lianyungang actual","x":2.15,"y":23},{"s":"Lianyungang actual","x":2.43,"y":23},{"s":"Lianyungang actual","x":3.38,"y":23},{"s":"Lianyungang actual","x":3.45,"y":23},{"s":"Lianyungang actual","x":3.60,"y":23},{"s":"Lianyungang actual","x":3.75,"y":23},{"s":"Lianyungang actual","x":3.79,"y":23},{"s":"Lianyungang actual","x":4.00,"y":23}
    ]
  },
  "encoding": {
    "x": {"field": "x", "type": "quantitative",
      "scale": {"domain": [0, 5.5], "nice": false, "zero": false},
      "axis": {"values": [0,1,2,3,4,5], "format": "d", "grid": false, "title": "Million meter", "titleFontSize": 22, "titleFontWeight": "bold", "titleX": 280, "titleY": 56, "titleBaseline": "alphabetic", "labelFontSize": 19, "labelPadding": 4, "tickSize": 6, "domainColor": "#BFBFBF", "tickColor": "#BFBFBF"}},
    "y": {"field": "y", "type": "quantitative",
      "scale": {"domain": [0, 250], "nice": false},
      "axis": {"values": [0,50,100,150,200,250], "format": "d", "grid": true, "gridColor": "#E3E3E3", "title": "Billion USD", "titleFontSize": 22, "titleFontWeight": "bold", "titleX": -50, "titleY": 262, "labelFontSize": 19, "labelPadding": 3, "tickSize": 6, "domainColor": "#BFBFBF", "tickColor": "#BFBFBF"}},
    "stroke": {"field": "s", "type": "nominal",
      "scale": {
        "domain": ["Shanghai  forecast","Shanghai  actual","Tianjin forecast","Tianjin actual","Qingdao forecast","Qingdao actual","Ningbo  forecast","Ningbo actual","Dalian forecast","Dalian actual","Guangzhou forecast","Guangzhou actual","Lianyungang forecast","Lianyungang actual"],
        "range": ["#0F2A6E","#1F3C80","#1CA3E0","#1CA3E0","#8CC84B","#8CC84B","#FFF200","#FFF200","#FFB000","#FFB000","#FF0000","#FF0000","#C00000","#C00000"]
      },
      "legend": {
        "title": null, "orient": "none", "legendX": 607, "legendY": 94,
        "labelFontSize": 18, "labelFont": "Lato", "labelColor": "#000000", "labelLimit": 300,
        "symbolStrokeWidth": 2.5, "rowPadding": 8.3, "clipHeight": 17, "labelOffset": 4, "symbolFillColor": "white"
      }
    }
  },
  "layer": [
    {
      "data": {"name": "actual"},
      "mark": {"type": "point", "filled": true, "fill": "white", "strokeWidth": 1.6, "opacity": 1},
      "encoding": {
        "shape": {"field": "s", "type": "nominal",
          "scale": {
            "domain": ["Shanghai  forecast","Shanghai  actual","Tianjin forecast","Tianjin actual","Qingdao forecast","Qingdao actual","Ningbo  forecast","Ningbo actual","Dalian forecast","Dalian actual","Guangzhou forecast","Guangzhou actual","Lianyungang forecast","Lianyungang actual"],
            "range": ["stroke","circle","stroke","circle","stroke","circle","stroke","circle","stroke","circle","stroke","circle","stroke","circle"]
          },
          "legend": {"title": null}
        },
        "size": {"field": "s", "type": "nominal",
          "scale": {
            "type": "ordinal",
            "domain": ["Shanghai  forecast","Shanghai  actual","Tianjin forecast","Tianjin actual","Qingdao forecast","Qingdao actual","Ningbo  forecast","Ningbo actual","Dalian forecast","Dalian actual","Guangzhou forecast","Guangzhou actual","Lianyungang forecast","Lianyungang actual"],
            "range": [900,45,900,45,900,45,900,45,900,45,900,45,900,45]
          },
          "legend": {"title": null}
        }
      }
    },
    {
      "data": {"name": "forecast"},
      "mark": {"type": "line", "strokeWidth": 2.5, "interpolate": "monotone"},
      "encoding": {"detail": {"field": "s", "type": "nominal"}}
    }
  ]
}
